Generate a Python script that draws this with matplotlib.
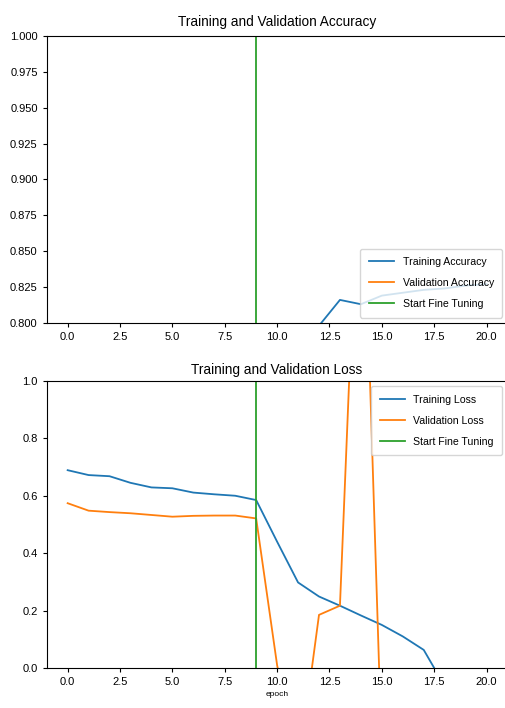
import matplotlib
matplotlib.use("Agg")
import matplotlib.pyplot as plt

epochs = list(range(21))
initial_epochs = 10

acc = [0.552, 0.603, 0.641, 0.662, 0.681, 0.695, 0.708, 0.718, 0.727, 0.736,
       0.752, 0.771, 0.798, 0.816, 0.813, 0.819, 0.821, 0.823, 0.824, 0.826, 0.827]
val_acc = [0.640, 0.668, 0.684, 0.692, 0.701, 0.707, 0.712, 0.715, 0.718, 0.721,
           0.640, 0.610, 0.705, 0.712, 0.520, 0.560, 0.590, 0.610, 0.600, 0.620, 0.630]

loss = [0.689, 0.672, 0.668, 0.645, 0.629, 0.626, 0.611, 0.605, 0.600, 0.585,
        0.440, 0.298, 0.249, 0.217, 0.183, 0.150, 0.110, 0.063, -0.063, -0.150, -0.240]
val_loss = [0.574, 0.548, 0.543, 0.539, 0.533, 0.527, 0.530, 0.531, 0.531, 0.521,
            0.010, -0.360, 0.185, 0.217, 2.000, -0.300, -0.500, -0.700, -0.600, -0.800, -0.900]

acc_ticks = [0.800, 0.825, 0.850, 0.875, 0.900, 0.925, 0.950, 0.975, 1.000]
loss_ticks = [0.0, 0.2, 0.4, 0.6, 0.8, 1.0]
x_ticks = [0.0, 2.5, 5.0, 7.5, 10.0, 12.5, 15.0, 17.5, 20.0]

plt.rcParams['font.family'] = ['Liberation Sans', 'DejaVu Sans']
fig = plt.figure(figsize=(5.06, 7.08), dpi=100)

lw = 1.3
fs_tick = 8
fs_title = 9.8
fs_leg = 7.6
leg_kw = dict(fontsize=fs_leg, labelspacing=1.05, handlelength=2.4,
              borderpad=0.8, handletextpad=0.8)

ax1 = fig.add_axes([0.0923, 0.544, 0.9107, 0.405])
ax1.plot(epochs, acc, label='Training Accuracy', lw=lw)
ax1.plot(epochs, val_acc, label='Validation Accuracy', lw=lw)
ax1.set_ylim([0.8, 1.0])
ax1.plot([initial_epochs - 1, initial_epochs - 1], ax1.get_ylim(), label='Start Fine Tuning', lw=lw)
ax1.set_xlim(-1, 21)
ax1.set_yticks(acc_ticks)
ax1.set_yticklabels([f"{t:.3f}" for t in acc_ticks])
ax1.set_xticks(x_ticks)
ax1.set_xticklabels([f"{t:.1f}" for t in x_ticks])
ax1.tick_params(labelsize=fs_tick, length=3)
ax1.legend(loc='lower right', **leg_kw)
ax1.set_title('Training and Validation Accuracy', fontsize=fs_title, pad=7)

ax2 = fig.add_axes([0.0923, 0.0565, 0.9107, 0.4055])
ax2.plot(epochs, loss, label='Training Loss', lw=lw)
ax2.plot(epochs, val_loss, label='Validation Loss', lw=lw)
ax2.set_ylim([0, 1.0])
ax2.plot([initial_epochs - 1, initial_epochs - 1], ax2.get_ylim(), label='Start Fine Tuning', lw=lw)
ax2.set_xlim(-1, 21)
ax2.set_yticks(loss_ticks)
ax2.set_yticklabels([f"{t:.1f}" for t in loss_ticks])
ax2.set_xticks(x_ticks)
ax2.set_xticklabels([f"{t:.1f}" for t in x_ticks])
ax2.tick_params(labelsize=fs_tick, length=3)
ax2.legend(loc='upper right', **leg_kw)
ax2.set_title('Training and Validation Loss', fontsize=fs_title, pad=5)
ax2.set_xlabel('epoch', fontsize=6, labelpad=3)

fig.savefig('out.png', dpi=100)
